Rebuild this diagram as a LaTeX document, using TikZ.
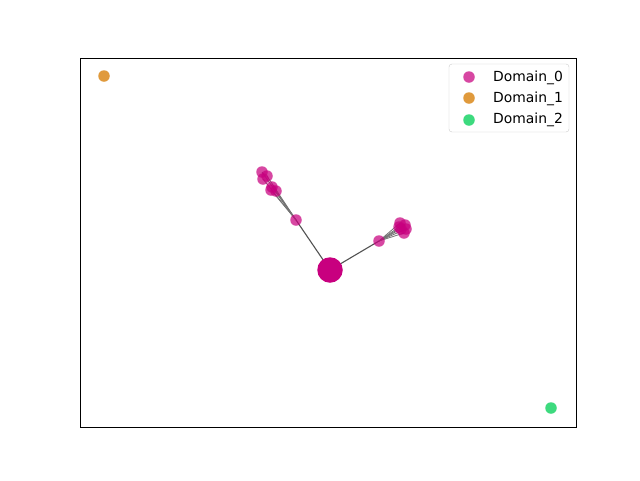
\documentclass[tikz,border=0pt]{standalone}
\usepackage{fontspec}
\setmainfont{DejaVu Sans}
\begin{document}
\begin{tikzpicture}[x=1pt,y=-1pt,
  pt0/.style={circle,fill=dom0,fill opacity=0.72,inner sep=0,minimum size=11.5pt},
  pt1/.style={circle,fill=dom1,inner sep=0,minimum size=11.5pt},
  pt2/.style={circle,fill=dom2,inner sep=0,minimum size=11.5pt},
  edge/.style={draw=black!68,line width=1.1pt},
  legtext/.style={anchor=base west,font=\fontsize{13.9}{16}\selectfont,inner sep=0}]
\definecolor{dom0}{HTML}{C8007F}
\definecolor{dom1}{HTML}{E09A3C}
\definecolor{dom2}{HTML}{3DDA7E}
\useasboundingbox (0,0) rectangle (640,480);
\fill[white] (0,0) rectangle (640,480);
% coordinates of points
\coordinate (c) at (330,270);
\coordinate (h1) at (296,220);
\coordinate (h2) at (379,241);
\foreach \i/\x/\y in {u1/262/172,u2/267/176,u3/263/179,u4/272/187,u5/276/191,u6/271/190,
  r1/400/223,r2/405/225,r3/401/229,r4/404/233,r5/406/229,r6/399/227}
  \coordinate (\i) at (\x,\y);
% edges
\draw[edge] (c) -- (h1);
\draw[edge] (c) -- (h2);
\foreach \i in {u1,u2,u3,u4,u5,u6} \draw[edge,draw=black!55,line width=0.8pt] (h1) -- (\i);
\foreach \i in {r1,r2,r3,r4,r5,r6} \draw[edge,draw=black!55,line width=0.8pt] (h2) -- (\i);
% points
\node[pt0] (nh1) at (h1) {};
\node[pt0] (nh2) at (h2) {};
\foreach \i in {u1,u2,u3,u4,u5,u6,r1,r2,r3,r4,r5,r6}
  \node[pt0] (n\i) at (\i) {};
% center blob (many overlapping points)
\node[circle,fill=dom0,inner sep=0,minimum size=25.5pt] (nc) at (c) {};
\node[circle,fill=dom0,inner sep=0,minimum size=11pt] (nc2) at (333,276) {};
\node[pt1] (o) at (104,76) {};
\node[pt2] (g) at (551,408) {};
% axes frame
\draw[line width=0.9pt] (80,58) rectangle (576,427);
% legend
\draw[black!20,fill=white,fill opacity=0.8,rounded corners=3pt] (449,64) rectangle (569,132);
\node[pt0] (l0) at (469,77) {};
\node[pt1] (l1) at (469,98) {};
\node[pt2] (l2) at (469,120) {};
\node[legtext] (t0) at (493,81) {Domain\_0};
\node[legtext] (t1) at (493,102) {Domain\_1};
\node[legtext] (t2) at (493,123) {Domain\_2};
\end{tikzpicture}
\end{document}
